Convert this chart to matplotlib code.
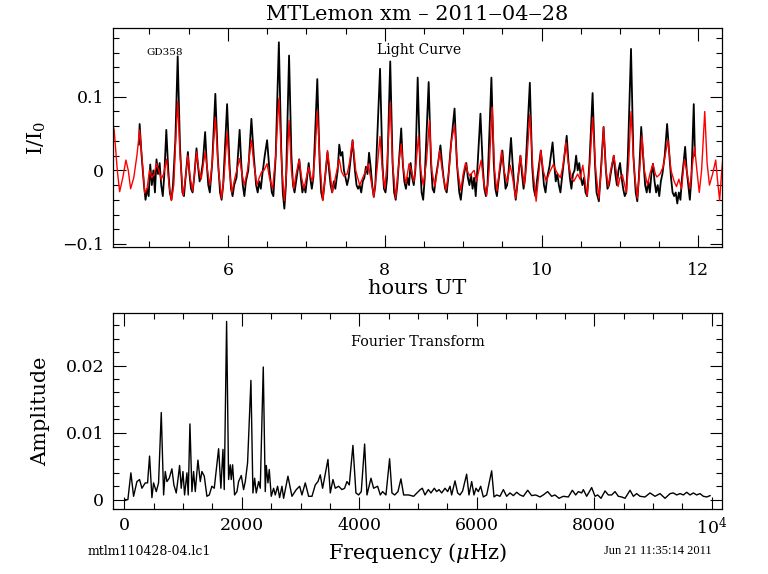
import numpy as np
import matplotlib
matplotlib.use("Agg")
import matplotlib.pyplot as plt
from matplotlib.ticker import MultipleLocator, FixedLocator

plt.rcParams['font.family'] = ['DejaVu Serif']
plt.rcParams['mathtext.fontset'] = 'dejavuserif'

# light curve data (hours UT, I/I0)
lc_t = [4.865, 4.875, 4.90, 4.93, 4.95, 4.97, 4.99, 5.01, 5.03, 5.05, 5.07, 5.09, 5.11, 5.13, 5.15, 5.17,
        5.19, 5.215, 5.24, 5.26, 5.28, 5.30, 5.33, 5.36, 5.39, 5.42, 5.44, 5.46, 5.49, 5.51, 5.53, 5.55,
        5.57, 5.60, 5.62, 5.64, 5.66, 5.68, 5.71, 5.73, 5.75, 5.77, 5.80, 5.84, 5.87, 5.90, 5.92, 5.94,
        5.99, 6.02, 6.04, 6.06, 6.08, 6.11, 6.15, 6.17, 6.19, 6.21, 6.23, 6.26, 6.30, 6.33, 6.36, 6.38,
        6.40, 6.42, 6.44, 6.47, 6.50, 6.53, 6.56, 6.58, 6.61, 6.65, 6.68, 6.70, 6.72, 6.74, 6.78, 6.81,
        6.83, 6.85, 6.87, 6.89, 6.91, 6.93, 6.95, 6.97, 6.99, 7.01, 7.03, 7.05, 7.07, 7.09, 7.14, 7.17,
        7.19, 7.21, 7.23, 7.27, 7.29, 7.31, 7.33, 7.35, 7.37, 7.40, 7.42, 7.44, 7.46, 7.48, 7.50, 7.52,
        7.54, 7.59, 7.62, 7.64, 7.66, 7.68, 7.70, 7.72, 7.74, 7.76, 7.78, 7.80, 7.82, 7.84, 7.86, 7.88,
        7.94, 7.97, 7.99, 8.01, 8.03, 8.07, 8.10, 8.12, 8.14, 8.16, 8.21, 8.23, 8.25, 8.27, 8.29, 8.31,
        8.33, 8.35, 8.37, 8.39, 8.42, 8.45, 8.47, 8.49, 8.51, 8.56, 8.59, 8.61, 8.63, 8.65, 8.68, 8.71,
        8.73, 8.75, 8.77, 8.79, 8.81, 8.84, 8.89, 8.92, 8.95, 8.97, 8.99, 9.01, 9.04, 9.06, 9.08, 9.10,
        9.12, 9.14, 9.16, 9.18, 9.22, 9.25, 9.27, 9.29, 9.31, 9.36, 9.39, 9.41, 9.43, 9.45, 9.48, 9.50,
        9.52, 9.54, 9.56, 9.58, 9.61, 9.63, 9.65, 9.67, 9.69, 9.71, 9.73, 9.75, 9.77, 9.79, 9.85, 9.88,
        9.90, 9.92, 9.94, 9.97, 9.99, 10.01, 10.03, 10.05, 10.07, 10.10, 10.14, 10.16, 10.18, 10.20, 10.22,
        10.24, 10.26, 10.32, 10.34, 10.36, 10.38, 10.40, 10.42, 10.44, 10.46, 10.48, 10.50, 10.52, 10.54,
        10.56, 10.58, 10.61, 10.65, 10.68, 10.70, 10.73, 10.75, 10.79, 10.82, 10.84, 10.86, 10.88, 10.92,
        10.94, 10.96, 10.98, 11.00, 11.02, 11.04, 11.06, 11.08, 11.10, 11.14, 11.17, 11.20, 11.22, 11.24,
        11.27, 11.30, 11.32, 11.34, 11.36, 11.38, 11.40, 11.42, 11.44, 11.46, 11.48, 11.50, 11.52, 11.54,
        11.57, 11.60, 11.63, 11.65, 11.67, 11.69, 11.71, 11.73, 11.75, 11.77, 11.79, 11.81, 11.83, 11.85,
        11.87, 11.89, 11.91, 11.94, 11.955]
lc_v = [0.035, 0.063, 0.020, -0.020, -0.040, -0.025, -0.035, 0.008, -0.020, 0.000, -0.030, 0.015, -0.005, 0.010, -0.020, -0.035,
        -0.005, 0.055, 0.000, -0.030, -0.040, -0.020, 0.040, 0.155, 0.030, -0.030, -0.035, -0.010, 0.025, -0.005, -0.025, -0.030,
        -0.010, 0.030, 0.005, -0.015, -0.005, 0.010, 0.052, 0.010, -0.020, -0.030, 0.010, 0.104, 0.020, -0.030, -0.040, -0.020,
        0.090, 0.010, -0.025, -0.035, -0.020, -0.010, 0.055, 0.010, -0.020, -0.035, -0.015, 0.000, 0.070, 0.020, -0.020, -0.030,
        -0.015, -0.025, -0.005, 0.020, 0.041, 0.000, -0.030, -0.035, 0.020, 0.174, 0.030, -0.030, -0.052, -0.020, 0.156, 0.020,
        -0.020, -0.030, -0.015, 0.000, 0.015, -0.010, -0.030, -0.020, -0.030, -0.010, 0.010, -0.010, -0.025, -0.010, 0.124, 0.010,
        -0.030, -0.040, -0.020, 0.025, 0.000, -0.020, -0.030, -0.015, -0.025, 0.000, 0.035, 0.020, 0.025, 0.000, -0.010, -0.020,
        -0.010, 0.041, 0.000, -0.020, -0.025, -0.020, -0.030, -0.015, -0.010, 0.005, -0.005, 0.024, 0.005, -0.020, -0.036, -0.020,
        0.138, 0.010, -0.025, -0.030, -0.010, 0.148, 0.010, -0.030, -0.040, -0.020, 0.057, 0.010, -0.015, -0.025, -0.010, -0.020,
        0.010, -0.010, -0.020, 0.000, 0.126, 0.010, -0.030, -0.040, -0.010, 0.120, 0.010, -0.025, -0.030, -0.010, 0.010, 0.034,
        0.010, -0.010, -0.025, -0.030, -0.010, 0.030, 0.084, 0.010, -0.030, -0.040, -0.020, -0.005, 0.010, -0.010, -0.020, -0.005,
        -0.025, -0.010, -0.035, 0.000, 0.077, 0.005, -0.025, -0.035, -0.020, 0.126, 0.010, -0.025, -0.035, -0.015, 0.010, 0.027,
        0.000, -0.025, -0.020, 0.000, 0.044, 0.010, -0.020, -0.040, -0.020, 0.000, 0.020, -0.005, -0.025, -0.010, 0.119, 0.005,
        -0.025, -0.035, -0.015, 0.010, 0.027, 0.005, -0.020, -0.030, -0.010, 0.005, 0.038, 0.010, -0.015, -0.005, -0.020,
        -0.030, -0.010, 0.047, 0.015, -0.010, -0.025, -0.005, 0.000, 0.020, 0.000, 0.010, -0.010, -0.020, -0.010,
        -0.030, -0.035, 0.010, 0.105, 0.010, -0.030, -0.042, -0.010, 0.059, 0.000, -0.025, -0.020, -0.005, 0.020,
        -0.005, -0.020, 0.000, 0.010, -0.010, -0.025, -0.035, -0.030, 0.020, 0.165, 0.020, -0.030, -0.042, -0.010,
        0.059, 0.010, -0.020, -0.030, -0.015, -0.030, -0.005, 0.009, -0.015, -0.030, -0.020, -0.035, -0.015, -0.005,
        0.020, 0.063, 0.020, -0.010, -0.030, -0.035, -0.030, -0.045, -0.030, -0.040, -0.010, 0.010, 0.032, 0.000,
        -0.020, -0.040, -0.010, 0.090, 0.020]

# fitted model (red)
fit_t = [4.531, 4.55, 4.59, 4.62, 4.66, 4.70, 4.73, 4.76, 4.80, 4.84, 4.875, 4.91, 4.94, 4.97, 5.00, 5.03,
         5.06, 5.09, 5.12, 5.15, 5.18, 5.22, 5.25, 5.28, 5.31, 5.33, 5.36, 5.39, 5.43, 5.46, 5.49, 5.52,
         5.55, 5.58, 5.60, 5.63, 5.66, 5.69, 5.71, 5.74, 5.77, 5.80, 5.84, 5.88, 5.92, 5.95, 5.99, 6.02,
         6.05, 6.09, 6.15, 6.18, 6.21, 6.25, 6.30, 6.33, 6.37, 6.40, 6.43, 6.46, 6.50, 6.53, 6.57, 6.61,
         6.65, 6.69, 6.72, 6.75, 6.78, 6.81, 6.84, 6.87, 6.91, 6.94, 6.97, 7.00, 7.03, 7.06, 7.08, 7.11,
         7.14, 7.18, 7.21, 7.24, 7.27, 7.30, 7.33, 7.37, 7.42, 7.45, 7.48, 7.52, 7.55, 7.59, 7.63, 7.68,
         7.72, 7.76, 7.79, 7.82, 7.86, 7.90, 7.94, 7.97, 8.00, 8.03, 8.07, 8.10, 8.14, 8.17, 8.21, 8.24,
         8.27, 8.31, 8.34, 8.37, 8.40, 8.43, 8.46, 8.49, 8.53, 8.57, 8.60, 8.64, 8.67, 8.70, 8.74, 8.78,
         8.82, 8.85, 8.89, 8.93, 8.97, 9.00, 9.03, 9.06, 9.09, 9.12, 9.14, 9.17, 9.20, 9.23, 9.26, 9.30,
         9.33, 9.37, 9.40, 9.43, 9.46, 9.49, 9.52, 9.56, 9.60, 9.63, 9.67, 9.70, 9.73, 9.76, 9.78, 9.81,
         9.85, 9.89, 9.93, 9.96, 9.99, 10.02, 10.06, 10.10, 10.15, 10.19, 10.24, 10.27, 10.31, 10.34, 10.38, 10.41,
         10.46, 10.49, 10.525, 10.58, 10.61, 10.65, 10.69, 10.73, 10.76, 10.79, 10.82, 10.85, 10.88, 10.92, 10.95, 10.975,
         11.00, 11.03, 11.08, 11.11, 11.14, 11.18, 11.22, 11.25, 11.28, 11.31, 11.35, 11.38, 11.42, 11.45, 11.47, 11.51,
         11.55, 11.61, 11.65, 11.69, 11.72, 11.75, 11.785, 11.82, 11.85, 11.89, 11.92, 11.95, 11.98, 12.01, 12.04, 12.08,
         12.11, 12.14, 12.18, 12.22, 12.24, 12.27, 12.29, 12.31]
fit_v = [0.062, 0.055, 0.000, -0.029, -0.010, 0.014, 0.000, -0.025, -0.010, 0.020, 0.055, 0.010, -0.031, -0.025, 0.000, -0.010,
         -0.005, 0.009, 0.000, -0.012, -0.005, 0.015, -0.020, -0.041, -0.020, 0.030, 0.094, 0.020, -0.034, -0.010, 0.020, -0.010,
         -0.028, 0.000, 0.025, 0.000, -0.012, 0.010, 0.025, 0.000, -0.020, 0.010, 0.072, 0.000, -0.038, -0.010, 0.052, 0.000,
         -0.030, -0.010, 0.016, -0.005, -0.020, 0.000, 0.041, 0.010, -0.020, -0.010, -0.002, 0.000, 0.009, -0.010, -0.025, 0.020,
         0.098, 0.000, -0.041, 0.000, 0.068, 0.000, -0.025, -0.005, 0.015, -0.010, -0.025, -0.010, 0.004, -0.010, -0.015, 0.020,
         0.081, 0.000, -0.041, -0.010, 0.027, 0.000, -0.030, -0.010, 0.015, -0.002, -0.008, -0.005, 0.010, 0.041, 0.000, -0.020,
         -0.010, 0.000, 0.009, -0.010, -0.036, 0.000, 0.046, 0.000, -0.025, 0.010, 0.092, 0.010, -0.038, 0.000, 0.036, 0.000,
         -0.018, 0.009, 0.000, -0.015, 0.010, 0.047, 0.000, -0.020, 0.010, 0.068, 0.000, -0.022, 0.000, 0.027, -0.005, -0.027,
         0.000, 0.040, 0.061, 0.000, -0.027, -0.005, 0.010, -0.003, -0.008, -0.002, 0.000, -0.015, 0.000, 0.014, -0.015, -0.034,
         0.000, 0.086, 0.000, -0.028, 0.000, 0.027, 0.000, -0.016, 0.007, -0.010, -0.038, -0.010, 0.020, -0.005, -0.020, 0.010,
         0.076, 0.000, -0.042, -0.010, 0.027, 0.000, -0.015, -0.003, 0.008, -0.002, -0.010, 0.005, 0.038, 0.010, -0.010, -0.015,
         -0.005, -0.012, 0.007, -0.034, 0.000, 0.072, 0.000, -0.038, 0.000, 0.059, 0.000, -0.022, 0.000, 0.020, 0.000, -0.022,
         -0.010, -0.006, -0.030, 0.010, 0.080, 0.000, -0.038, 0.000, 0.047, 0.000, -0.020, -0.005, 0.009, -0.005, -0.009, -0.005,
         0.005, 0.041, 0.000, -0.015, -0.022, -0.012, -0.025, 0.015, 0.000, -0.025, 0.005, 0.032, 0.000, -0.030, 0.000, 0.080,
         0.010, -0.020, -0.005, 0.014, -0.010, -0.041, -0.010, 0.016]

# Fourier transform (uHz, amplitude)
ft_f = [17, 62, 113, 159, 216, 261, 301, 357, 397, 431, 471, 499, 545, 584, 630, 670, 698, 726, 766, 811,
        845, 885, 914, 942, 970, 999, 1027, 1067, 1089, 1118, 1152, 1180, 1209, 1254, 1294, 1322, 1362, 1407, 1447, 1492,
        1532, 1606, 1645, 1680, 1702, 1742, 1776, 1804, 1821, 1844, 1878, 1918, 1946, 1992, 2031, 2060, 2099, 2156, 2190, 2219,
        2247, 2287, 2315, 2366, 2400, 2417, 2446, 2468, 2502, 2542, 2570, 2610, 2644, 2684, 2712, 2786, 2854, 2928, 2985, 3024,
        3081, 3138, 3195, 3251, 3297, 3336, 3376, 3467, 3507, 3552, 3592, 3648, 3705, 3750, 3790, 3830, 3892, 3943, 3989, 4034,
        4091, 4131, 4199, 4244, 4312, 4358, 4397, 4454, 4516, 4556, 4602, 4658, 4709, 4755, 4840, 4925, 4982, 5038, 5073, 5118,
        5175, 5220, 5277, 5317, 5357, 5402, 5459, 5504, 5544, 5572, 5629, 5674, 5714, 5759, 5827, 5867, 5913, 5952, 5986, 6026,
        6066, 6111, 6168, 6253, 6293, 6338, 6395, 6452, 6508, 6565, 6622, 6679, 6735, 6792, 6866, 6934, 7002, 7076, 7132, 7206,
        7274, 7331, 7399, 7473, 7558, 7626, 7683, 7728, 7785, 7813, 7870, 7955, 8012, 8057, 8114, 8182, 8239, 8296, 8352, 8409,
        8466, 8523, 8608, 8665, 8721, 8778, 8863, 8948, 9033, 9118, 9204, 9289, 9345, 9402, 9459, 9516, 9572, 9629, 9686, 9742,
        9799, 9856, 9913, 9970]
ft_a = [0.0, 0.0, 0.0040, 0.0005, 0.0027, 0.0030, 0.0017, 0.0025, 0.0025, 0.0065, 0.0003, 0.0025, 0.0012, 0.0025, 0.0130, 0.0007, 0.0042, 0.0027, 0.0032, 0.0046,
        0.0022, 0.0010, 0.0030, 0.0051, 0.0017, 0.0042, 0.0007, 0.0040, 0.0007, 0.0113, 0.0012, 0.0042, 0.0012, 0.0059, 0.0027, 0.0042, 0.0035, 0.0005, 0.0007, 0.0020,
        0.0017, 0.0076, 0.0017, 0.0075, 0.0015, 0.0266, 0.0030, 0.0052, 0.0030, 0.0052, 0.0007, 0.0012, 0.0027, 0.0036, 0.0015, 0.0027, 0.0055, 0.0178, 0.0010, 0.0032,
        0.0010, 0.0027, 0.0017, 0.0198, 0.0012, 0.0051, 0.0025, 0.0045, 0.0005, 0.0017, 0.0007, 0.0020, 0.0003, 0.0020, 0.0002, 0.0035, 0.0005, 0.0015, 0.0020, 0.0007,
        0.0025, 0.0005, 0.0005, 0.0022, 0.0027, 0.0037, 0.0017, 0.0060, 0.0010, 0.0030, 0.0017, 0.0020, 0.0015, 0.0017, 0.0027, 0.0022, 0.0081, 0.0010, 0.0007, 0.0012,
        0.0083, 0.0007, 0.0032, 0.0017, 0.0020, 0.0007, 0.0012, 0.0007, 0.0061, 0.0010, 0.0007, 0.0012, 0.0031, 0.0007, 0.0007, 0.0005, 0.0010, 0.0015, 0.0017, 0.0007,
        0.0015, 0.0010, 0.0017, 0.0012, 0.0015, 0.0010, 0.0017, 0.0012, 0.0020, 0.0007, 0.0028, 0.0010, 0.0007, 0.0013, 0.0038, 0.0007, 0.0027, 0.0007, 0.0017, 0.0012,
        0.0020, 0.0004, 0.0007, 0.0043, 0.0004, 0.0007, 0.0005, 0.0015, 0.0005, 0.0010, 0.0006, 0.0011, 0.0007, 0.0005, 0.0014, 0.0006, 0.0007, 0.0004, 0.0007, 0.0012,
        0.0005, 0.0007, 0.0002, 0.0005, 0.0004, 0.0014, 0.0007, 0.0012, 0.0010, 0.0015, 0.0005, 0.0018, 0.0005, 0.0007, 0.0002, 0.0013, 0.0007, 0.0007, 0.0012, 0.0005,
        0.0004, 0.0002, 0.0014, 0.0005, 0.0009, 0.0005, 0.0004, 0.0010, 0.0005, 0.0009, 0.0002, 0.0009, 0.0010, 0.0007, 0.0009, 0.0007, 0.0011, 0.0007, 0.0010, 0.0007,
        0.0009, 0.0005, 0.0004, 0.0006]

fig = plt.figure(figsize=(7.68, 5.74), dpi=100)

def pgstyle(ax, pad):
    ax.tick_params(which='both', direction='in', top=True, right=True, labelsize=12.5)
    ax.tick_params(axis='x', pad=pad)
    ax.tick_params(axis='y', pad=6)
    ax.tick_params(which='major', length=9, width=0.8)
    ax.tick_params(which='minor', length=4.5, width=0.8)
    for s in ax.spines.values():
        s.set_linewidth(0.9)

# top panel: light curve
ax1 = fig.add_axes([0.1467, 0.5702, 0.7934, 0.3805])
ax1.plot(lc_t, lc_v, color='black', lw=1.3)
ax1.plot(fit_t, fit_v, color='red', lw=1.0)
ax1.set_xlim(4.531, 12.30)
ax1.set_ylim(-0.1037, 0.193)
ax1.xaxis.set_major_locator(MultipleLocator(2))
ax1.xaxis.set_minor_locator(MultipleLocator(0.5))
ax1.yaxis.set_minor_locator(MultipleLocator(0.02))
ax1.set_yticks([-0.1, 0, 0.1])
ax1.set_yticklabels(['\u22120.1', '0', '0.1'])
pgstyle(ax1, 11)
ax1.set_xlabel('hours UT', fontsize=15, labelpad=0)
ax1.set_ylabel('I/I$_0$', fontsize=15, labelpad=10)
ax1.set_title('MTLemon xm \u2013 2011\u201204\u201228', fontsize=15, pad=6)
ax1.text(0.055, 0.89, 'GD358', transform=ax1.transAxes, fontsize=7.5, va='center', ha='left')
ax1.text(0.434, 0.90, 'Light Curve', transform=ax1.transAxes, fontsize=10, va='center', ha='left')

# bottom panel: Fourier transform
ax2 = fig.add_axes([0.1467, 0.1132, 0.7934, 0.342])
ax2.plot(ft_f, ft_a, color='black', lw=1.0)
ax2.set_xlim(-197, 10173)
ax2.set_ylim(-0.0014, 0.0279)
ax2.xaxis.set_major_locator(FixedLocator([0, 2000, 4000, 6000, 8000, 10000]))
ax2.xaxis.set_minor_locator(MultipleLocator(500))
ax2.set_xticklabels(['0', '2000', '4000', '6000', '8000', '10$^4$'])
ax2.yaxis.set_minor_locator(MultipleLocator(0.002))
ax2.set_yticks([0, 0.01, 0.02])
ax2.set_yticklabels(['0', '0.01', '0.02'])
pgstyle(ax2, 6)
ax2.set_xlabel('Frequency ($\\mu$Hz)', fontsize=15, labelpad=2)
ax2.set_ylabel('Amplitude', fontsize=15, labelpad=11)
ax2.text(0.391, 0.851, 'Fourier Transform', transform=ax2.transAxes, fontsize=10.3, va='center', ha='left')

fig.text(0.1146, 0.040, 'mtlm110428-04.lc1', fontsize=9, va='center', ha='left')
fig.text(0.926, 0.040, 'Jun 21 11:35:14 2011', fontsize=9, va='center', ha='right',
         family='Liberation Serif')

fig.savefig('out.png', dpi=100)
